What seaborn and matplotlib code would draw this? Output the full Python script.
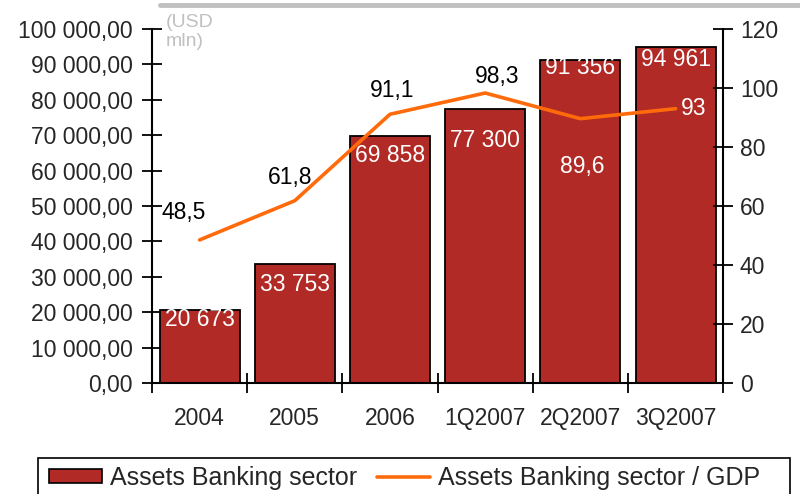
import numpy as np
import pandas as pd
import seaborn as sns
import matplotlib.pyplot as plt
from matplotlib.patches import Rectangle, Patch
from matplotlib.lines import Line2D
from matplotlib.ticker import FuncFormatter, MultipleLocator

sns.set_theme(style="white")
plt.rcParams['font.family'] = ['Liberation Sans', 'DejaVu Sans']

periods = ["2004", "2005", "2006", "1Q2007", "2Q2007", "3Q2007"]
assets = [20673, 33753, 69858, 77300, 91356, 94961]
assets_to_gdp = [48.5, 61.8, 91.1, 98.3, 89.6, 93.0]
asset_labels = ["20 673", "33 753", "69 858", "77 300", "91 356", "94 961"]
ratio_labels = ["48,5", "61,8", "91,1", "98,3", "89,6", "93"]

# label placement (pixel offsets from the mark) and colours
bar_label_drop = [10, 21, 20, 31, 8, 13]
ratio_label_offsets = [(-16, 27), (-5, 23), (2, 24), (12, 17), (2, -48), (18, 0)]
ratio_label_colors = ["black", "black", "black", "black", "white", "white"]

BAR_COLOR = "#B22A26"
LINE_COLOR = "#FF6A0A"
FS = 16.5
LEG_FS = 18

df = pd.DataFrame({"period": periods, "assets": assets, "ratio": assets_to_gdp})

fig = plt.figure(figsize=(8, 4.94), dpi=100)
ax = fig.add_axes([0.19, 0.2247, 0.714, 0.7166])

sns.barplot(data=df, x="period", y="assets", color=BAR_COLOR, saturation=1,
            edgecolor="black", linewidth=1.3, width=0.84, ax=ax)
ax.set_xlim(-0.5, len(periods) - 0.5)
ax.set_ylim(0, 100000)
ax.yaxis.set_major_locator(MultipleLocator(10000))
ax.yaxis.set_major_formatter(FuncFormatter(
    lambda v, p: f"{int(v):,}".replace(",", " ") + ",00"))
ax.set_xlabel("")
ax.set_ylabel("")

# category boundary ticks on the x axis
ax.set_xticks(np.arange(len(periods) + 1) - 0.5, minor=False)
ax.set_xticklabels([])
ax.set_xticks(np.arange(len(periods)), minor=True)
ax.set_xticklabels(periods, minor=True, fontsize=FS)
ax.tick_params(axis="x", which="major", direction="inout", length=14, width=1.3,
               color="black", bottom=True)
ax.tick_params(axis="x", which="minor", length=0, pad=17)
ax.tick_params(axis="y", direction="inout", length=14, width=1.3, color="black",
               left=True, labelsize=FS, pad=7)

for s in ["top", "right"]:
    ax.spines[s].set_visible(False)
for s in ["left", "bottom"]:
    ax.spines[s].set_color("black")
    ax.spines[s].set_linewidth(1.5)

ax2 = ax.twinx()
sns.lineplot(x=np.arange(len(periods)), y=assets_to_gdp, color=LINE_COLOR,
             linewidth=2.6, ax=ax2)
ax2.set_ylim(0, 120)
ax2.yaxis.set_major_locator(MultipleLocator(20))
ax2.tick_params(axis="y", direction="inout", length=14, width=1.3, color="black",
                right=True, labelsize=FS, pad=5)
for s in ["top", "left", "bottom"]:
    ax2.spines[s].set_visible(False)
ax2.spines["right"].set_color("black")
ax2.spines["right"].set_linewidth(1.5)

# value labels on the bars
for i, (v, lab) in enumerate(zip(assets, asset_labels)):
    ax.annotate(lab, xy=(i, v), xytext=(0, -bar_label_drop[i] * 0.72),
                textcoords="offset points", ha="center", va="center",
                color="white", fontsize=FS)

# value labels on the line
for i, (v, lab) in enumerate(zip(assets_to_gdp, ratio_labels)):
    dx, dy = ratio_label_offsets[i]
    ax2.annotate(lab, xy=(i, v), xytext=(dx * 0.72, dy * 0.72),
                 textcoords="offset points", ha="center", va="center",
                 color=ratio_label_colors[i], fontsize=FS)

# unit note and decorative top rule
fig.text(0.207, 0.972, "(USD\nmln)", color="#C0C0C0", fontsize=14,
         ha="left", va="top", linespacing=1.15)
fig.add_artist(Line2D([0.2, 1.0], [0.99, 0.99], color="#C0C0C0", linewidth=3.5,
                      transform=fig.transFigure))

# legend
fig.add_artist(Rectangle((0.0475, -0.02), 0.94, 0.0929, transform=fig.transFigure,
                         facecolor="white", edgecolor="black", linewidth=1.2))
handles = [Patch(facecolor=BAR_COLOR, edgecolor="black", linewidth=1.2),
           Line2D([0], [0], color=LINE_COLOR, linewidth=2.6)]
fig.legend(handles, ["Assets Banking sector", "Assets Banking sector / GDP"],
           loc="center left", bbox_to_anchor=(0.061, 0.032), ncol=2,
           frameon=False, fontsize=LEG_FS, handlelength=2.12, handleheight=0.5,
           handletextpad=0.32, columnspacing=0.8, borderpad=0, borderaxespad=0)

fig.savefig("out.png", dpi=100)
